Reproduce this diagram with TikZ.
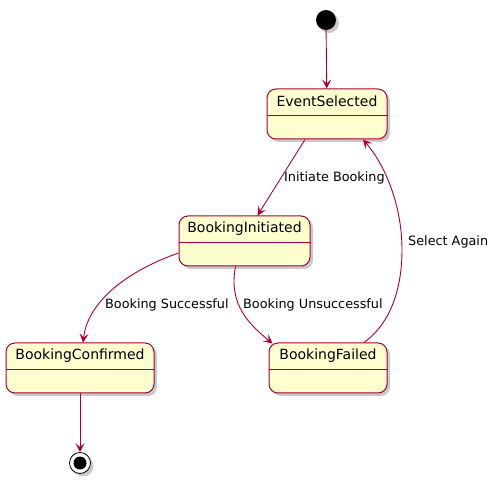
\documentclass[tikz,border=0pt]{standalone}
\usepackage{fontspec}
\setmainfont{DejaVu Sans}
\usetikzlibrary{arrows.meta,shadows,calc}
\definecolor{stfill}{HTML}{FEFECE}
\definecolor{stline}{HTML}{A80036}
\tikzset{
  stbox/.style={draw=stline, fill=stfill, line width=1pt, rounded corners=9pt, inner sep=0pt,
    drop shadow={shadow xshift=3pt, shadow yshift=-3pt, opacity=0.35, fill=black!60}},
  sttext/.style={font=\fontsize{14}{16}\selectfont, inner sep=0pt},
  lbl/.style={font=\fontsize{12.8}{15}\selectfont, inner sep=0pt, anchor=west},
  conn/.style={draw=stline, line width=0.9pt, -{Stealth[length=9pt,width=9pt,inset=4pt]}},
  divider/.style={draw=stline, line width=0.9pt}
}
\begin{document}
\begin{tikzpicture}[x=1pt,y=-1pt]
\useasboundingbox (0,0) rectangle (499,484);
% start
\node[circle, fill=black, minimum size=20pt, inner sep=0pt,
  drop shadow={shadow xshift=3pt, shadow yshift=-3pt, opacity=0.35, fill=black!60}] (start) at (326,20) {};
% states
\node[stbox, minimum width=120pt, minimum height=50pt] (es) at (327,114) {};
\node[sttext] (est) at ($(es.north)+(0,13)$) {EventSelected};
\draw[divider] ($(es.north west)+(0,27)$) -- ($(es.north east)+(0,27)$);

\node[stbox, minimum width=131pt, minimum height=50pt] (bi) at (244.5,241) {};
\node[sttext] (bit) at ($(bi.north)+(0,13)$) {BookingInitiated};
\draw[divider] ($(bi.north west)+(0,27)$) -- ($(bi.north east)+(0,27)$);

\node[stbox, minimum width=148pt, minimum height=50pt] (bc) at (80,368) {};
\node[sttext] (bct) at ($(bc.north)+(0,13)$) {BookingConfirmed};
\draw[divider] ($(bc.north west)+(0,27)$) -- ($(bc.north east)+(0,27)$);

\node[stbox, minimum width=118pt, minimum height=50pt] (bf) at (328,368) {};
\node[sttext] (bft) at ($(bf.north)+(0,13)$) {BookingFailed};
\draw[divider] ($(bf.north west)+(0,27)$) -- ($(bf.north east)+(0,27)$);

% end
\node[circle, draw=black, line width=0.8pt, fill=white, minimum size=21pt, inner sep=0pt,
  drop shadow={shadow xshift=3pt, shadow yshift=-3pt, opacity=0.35, fill=black!60}] (end) at (80,463) {};
\node[circle, fill=black, minimum size=13pt, inner sep=0pt] (endin) at (end.center) {};

% connectors
\draw[conn] (start) -- (es);
\draw[conn] ($(es.south)+(-22,0)$) -- ($(bi.north)+(13,0)$);
\draw[conn] ($(bi.west)+(0,12)$) .. controls (130,270) and (88,300) .. ($(bc.north)+(3,0)$);
\draw[conn] ($(bi.south)+(-9,0)$) .. controls (228,305) and (250,325) .. ($(bf.north west)+(4,1)$);
\draw[conn] ($(bf.north)+(36,0)$) .. controls (395,320) and (402,280) .. (402,250)
  .. controls (402,205) and (385,165) .. ($(es.south)+(36,0)$);
\draw[conn] (bc) -- (end);

% labels
\node[lbl] (l1) at (284,178) {Initiate Booking};
\node[lbl] (l2) at (105,305) {Booking Successful};
\node[lbl] (l3) at (243,305) {Booking Unsuccessful};
\node[lbl] (l4) at (408,242) {Select Again};
\end{tikzpicture}
\end{document}
